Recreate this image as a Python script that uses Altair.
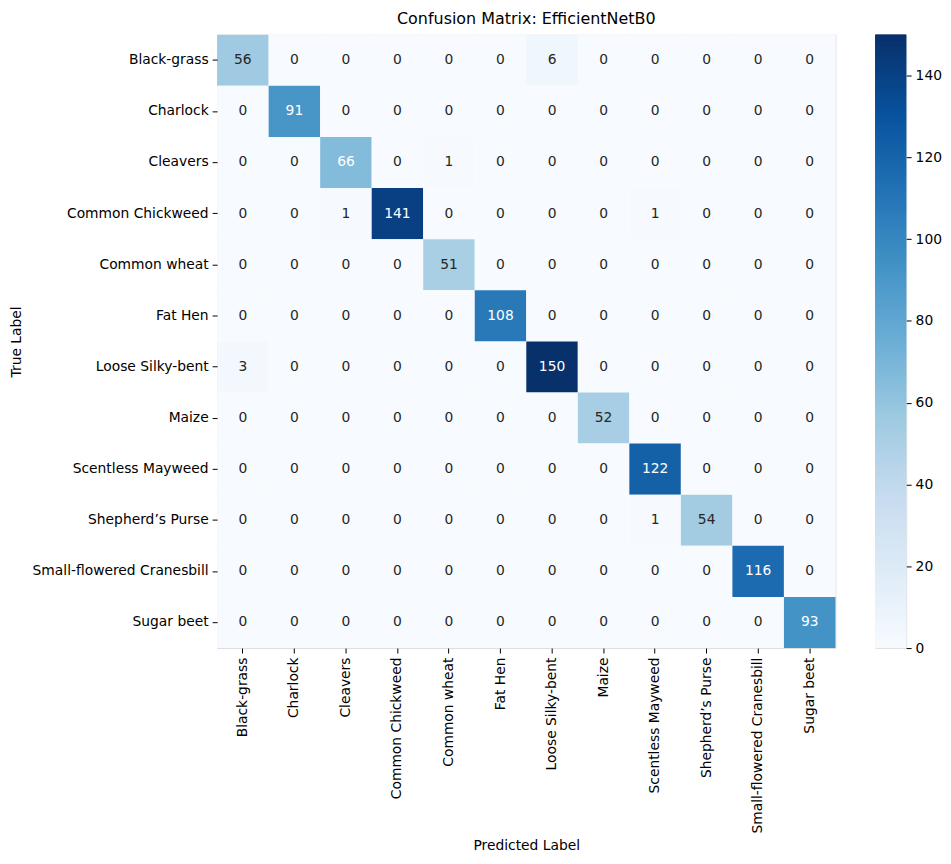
import altair as alt
import pandas as pd
import numpy as np

classes = ["Black-grass", "Charlock", "Cleavers", "Common Chickweed", "Common wheat",
           "Fat Hen", "Loose Silky-bent", "Maize", "Scentless Mayweed",
           "Shepherd\u2019s Purse", "Small-flowered Cranesbill", "Sugar beet"]

matrix = [
    [56, 0, 0, 0, 0, 0, 6, 0, 0, 0, 0, 0],
    [0, 91, 0, 0, 0, 0, 0, 0, 0, 0, 0, 0],
    [0, 0, 66, 0, 1, 0, 0, 0, 0, 0, 0, 0],
    [0, 0, 1, 141, 0, 0, 0, 0, 1, 0, 0, 0],
    [0, 0, 0, 0, 51, 0, 0, 0, 0, 0, 0, 0],
    [0, 0, 0, 0, 0, 108, 0, 0, 0, 0, 0, 0],
    [3, 0, 0, 0, 0, 0, 150, 0, 0, 0, 0, 0],
    [0, 0, 0, 0, 0, 0, 0, 52, 0, 0, 0, 0],
    [0, 0, 0, 0, 0, 0, 0, 0, 122, 0, 0, 0],
    [0, 0, 0, 0, 0, 0, 0, 0, 1, 54, 0, 0],
    [0, 0, 0, 0, 0, 0, 0, 0, 0, 0, 116, 0],
    [0, 0, 0, 0, 0, 0, 0, 0, 0, 0, 0, 93],
]

colorbar_ticks = [0, 20, 40, 60, 80, 100, 120, 140]

blues = ["#f7fbff", "#deebf7", "#c6dbef", "#9ecae1", "#6baed6",
         "#4292c6", "#2171b5", "#08519c", "#08306b"]
vmin, vmax = 0, 150
stops = [vmin + (vmax - vmin) * i / (len(blues) - 1) for i in range(len(blues))]
color_scale = alt.Scale(domain=stops, range=blues, type="linear", interpolate="rgb")

rows = []
for i, t in enumerate(classes):
    for j, p in enumerate(classes):
        rows.append({"true": t, "pred": p, "count": matrix[i][j]})
df = pd.DataFrame(rows)

FONT = "DejaVu Sans"

base = alt.Chart(df).encode(
    x=alt.X("pred:N", sort=classes, scale=alt.Scale(paddingInner=0, paddingOuter=0),
            axis=alt.Axis(title="Predicted Label", labelAngle=270, labelAlign="right",
                          labelBaseline="middle", domain=False, ticks=True, tickSize=5,
                          tickColor="black", labelPadding=4, labelFontSize=13.9,
                          titleFontSize=13.9, titleFontWeight="normal", labelColor="black",
                          titleColor="black", titlePadding=5, labelLimit=400)),
    y=alt.Y("true:N", sort=classes, scale=alt.Scale(paddingInner=0, paddingOuter=0),
            axis=alt.Axis(title="True Label", domain=False, ticks=True, tickSize=5,
                          tickColor="black", labelPadding=4, labelFontSize=13.9,
                          titleFontSize=13.9, titleFontWeight="normal", labelColor="black",
                          titleColor="black", titlePadding=9, labelLimit=400)),
)

rects = base.mark_rect(strokeWidth=0).encode(
    color=alt.Color("count:Q", scale=color_scale, legend=None)
)
texts = base.mark_text(fontSize=13.9, font=FONT).encode(
    text=alt.Text("count:Q"),
    color=alt.condition(alt.datum.count > 60, alt.value("white"), alt.value("#262626")),
)

heat = (rects + texts).properties(
    width=621, height=616,
    title=alt.TitleParams("Confusion Matrix: EfficientNetB0", fontSize=16,
                          fontWeight="normal", color="black", offset=8, font=FONT),
)

cb_vals = np.arange(vmin, vmax, 0.5)
cb_df = pd.DataFrame({"lo": cb_vals, "hi": cb_vals + 1.5, "mid": cb_vals + 0.25})
cb_df.loc[cb_df["hi"] > vmax, "hi"] = vmax
colorbar = alt.Chart(cb_df).mark_rect(strokeWidth=0).encode(
    y=alt.Y("lo:Q", scale=alt.Scale(domain=[vmin, vmax], nice=False, zero=False),
            axis=alt.Axis(orient="right", values=colorbar_ticks, title=None, domain=False,
                          grid=False, ticks=True, tickSize=5, tickColor="black",
                          labelPadding=4, labelFontSize=13.9, labelColor="black")),
    y2="hi:Q",
    color=alt.Color("mid:Q", scale=color_scale, legend=None),
).properties(width=31, height=616)

chart = alt.hconcat(heat, colorbar, spacing=38).configure_view(stroke=None).configure(
    font=FONT, padding={"left": 0, "top": 0, "right": 0, "bottom": 0}
)

chart.save("out.html", embed_options={"renderer": "svg", "actions": False})
